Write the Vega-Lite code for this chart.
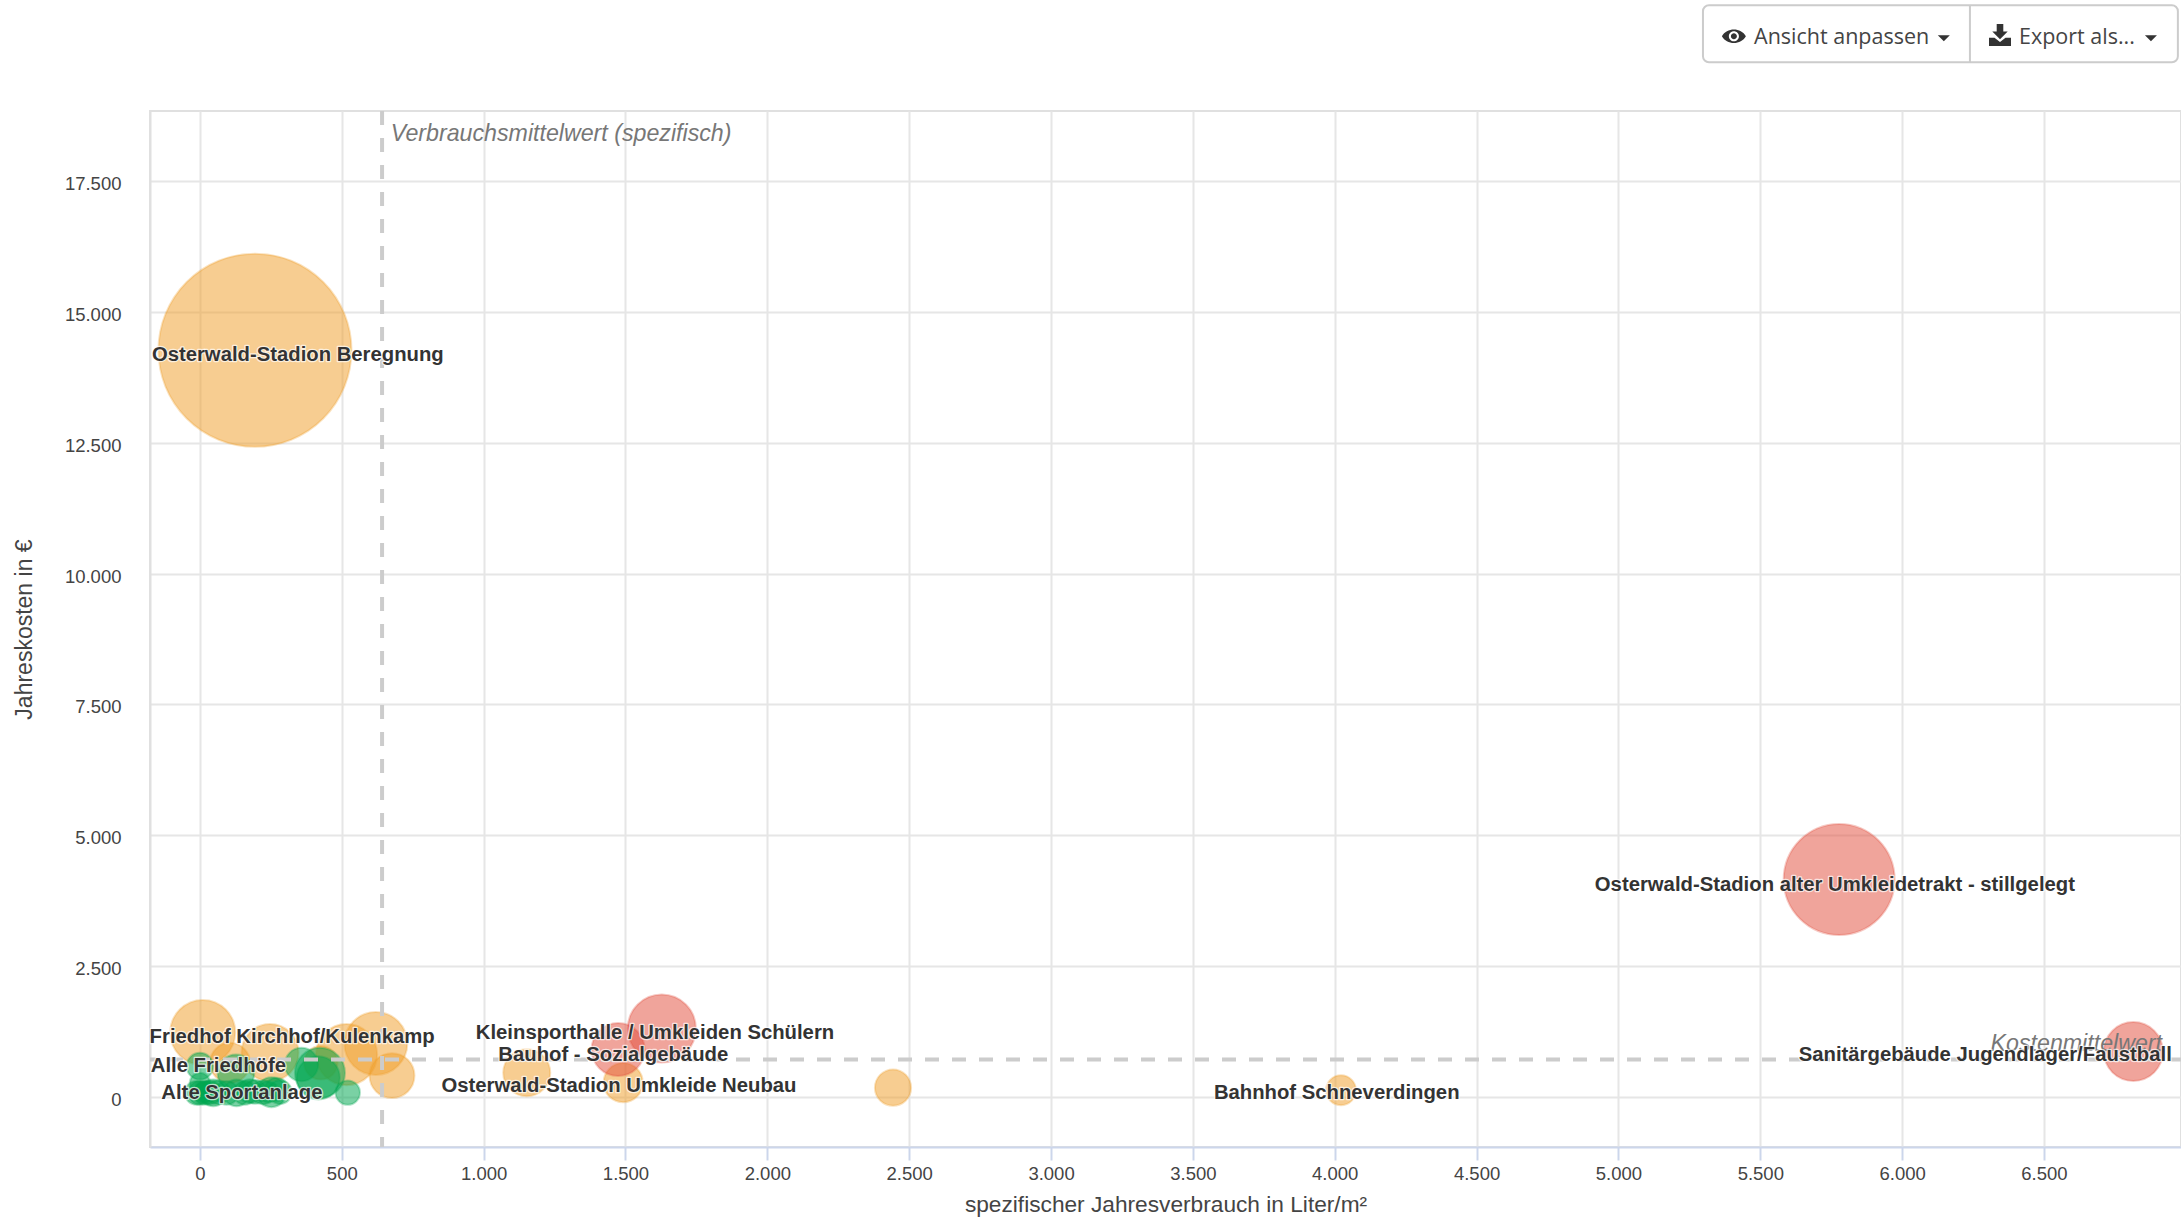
{
"$schema":"https://vega.github.io/schema/vega-lite/v6.json",
"width":2031,"height":1036,
"autosize":"none",
"padding":{"left":150,"top":111,"right":0,"bottom":74},
"background":"#ffffff",
"config":{"view":{"stroke":"#e0e0e0","strokeWidth":2},"font":"Liberation Sans"},
"datasets":{
"bubbles":[
{"name":"Osterwald-Stadion Beregnung","x":194,"y":14270,"m":996,"k":"mittel"},
{"name":"Friedhof Kirchhof/Kulenkamp","x":10,"y":1224,"m":113,"k":"mittel"},
{"name":"B","x":247,"y":840,"m":87,"k":"mittel"},
{"name":"C","x":517,"y":803,"m":100,"k":"mittel"},
{"name":"D","x":620,"y":1014,"m":106,"k":"mittel"},
{"name":"E","x":677,"y":400,"m":54,"k":"mittel"},
{"name":"F","x":106,"y":644,"m":43,"k":"mittel"},
{"name":"G","x":426,"y":644,"m":30,"k":"mittel"},
{"name":"Osterwald-Stadion Umkleide Neubau","x":1492,"y":265,"m":41,"k":"mittel"},
{"name":"H","x":1152,"y":455,"m":59,"k":"mittel"},
{"name":"I","x":2443,"y":170,"m":35,"k":"mittel"},
{"name":"Bahnhof Schneverdingen","x":4022,"y":120,"m":24,"k":"mittel"},
{"name":"Osterwald-Stadion alter Umkleidetrakt - stillgelegt","x":5778,"y":4150,"m":329,"k":"hoch"},
{"name":"Sanitärgebäude Jugendlager/Faustball","x":6815,"y":860,"m":93,"k":"hoch"},
{"name":"Kleinsporthalle / Umkleiden Schülern","x":1628,"y":1300,"m":124,"k":"hoch"},
{"name":"Bauhof - Sozialgebäude","x":1474,"y":900,"m":75,"k":"hoch"},
{"name":"Alle Friedhöfe","x":0,"y":580,"m":19,"k":"niedrig"},
{"name":"J","x":127,"y":452,"m":36,"k":"niedrig"},
{"name":"K","x":358,"y":612,"m":30,"k":"niedrig"},
{"name":"L","x":423,"y":452,"m":67,"k":"niedrig"},
{"name":"M","x":417,"y":357,"m":50,"k":"niedrig"},
{"name":"N","x":521,"y":75,"m":16,"k":"niedrig"},
{"name":"O","x":0,"y":70,"m":15,"k":"niedrig"},
{"name":"P","x":0,"y":261,"m":11,"k":"niedrig"},
{"name":"Alte Sportanlage","x":47,"y":70,"m":19,"k":"niedrig"},
{"name":"Q","x":129,"y":70,"m":19,"k":"niedrig"},
{"name":"R","x":176,"y":102,"m":15,"k":"niedrig"},
{"name":"S","x":252,"y":83,"m":24,"k":"niedrig"},
{"name":"T","x":270,"y":134,"m":15,"k":"niedrig"},
{"name":"U","x":-12,"y":70,"m":15,"k":"niedrig"},
{"name":"V","x":18,"y":70,"m":15,"k":"niedrig"},
{"name":"W","x":35,"y":75,"m":15,"k":"niedrig"},
{"name":"X","x":65,"y":80,"m":15,"k":"niedrig"},
{"name":"Y","x":94,"y":70,"m":15,"k":"niedrig"},
{"name":"Z","x":159,"y":70,"m":15,"k":"niedrig"},
{"name":"AA","x":194,"y":90,"m":15,"k":"niedrig"},
{"name":"AB","x":223,"y":80,"m":15,"k":"niedrig"},
{"name":"AC","x":282,"y":85,"m":15,"k":"niedrig"},
{"name":"AD","x":18,"y":80,"m":12,"k":"niedrig"},
{"name":"AE","x":240,"y":90,"m":12,"k":"niedrig"}
],
"labels":[
{"label":"Osterwald-Stadion Beregnung","x":345,"y":14180},
{"label":"Friedhof Kirchhof/Kulenkamp","x":325,"y":1145},
{"label":"Alle Friedhöfe","x":65,"y":580},
{"label":"Alte Sportanlage","x":148,"y":75},
{"label":"Kleinsporthalle / Umkleiden Schülern","x":1604,"y":1220},
{"label":"Bauhof - Sozialgebäude","x":1457,"y":790},
{"label":"Osterwald-Stadion Umkleide Neubau","x":1477,"y":210},
{"label":"Bahnhof Schneverdingen","x":4007,"y":75},
{"label":"Sanitärgebäude Jugendlager/Faustball","x":6293,"y":790},
{"label":"Osterwald-Stadion alter Umkleidetrakt - stillgelegt","x":5763,"y":4040}
]
},
"layer":[
{"data":{"name":"bubbles"},
"mark":{"type":"point","filled":true,"fillOpacity":0.52,"strokeOpacity":0.3,"strokeWidth":2},
"encoding":{
"x":{"field":"x","type":"quantitative","scale":{"domain":[-176,6983],"nice":false,"zero":false},
"axis":{"title":"spezifischer Jahresverbrauch in Liter/m²","titleFont":"Liberation Sans","titleFontSize":22.7,"titleFontWeight":"normal","titleColor":"#444444","titlePadding":11,
"values":[0,500,1000,1500,2000,2500,3000,3500,4000,4500,5000,5500,6000,6500],
"labelExpr":"replace(format(datum.value,','),',','.')","labelFont":"Liberation Sans","labelFontSize":18.5,"labelColor":"#444444","labelPadding":4,
"grid":true,"gridColor":"#e6e6e6","gridWidth":2,"tickColor":"#ccd6eb","tickWidth":2,"tickSize":13,"domainColor":"#ccd6eb","domainWidth":2}},
"y":{"field":"y","type":"quantitative","scale":{"domain":[-965,18845],"nice":false,"zero":false},
"axis":{"title":"Jahreskosten in €","titleFont":"Liberation Sans","titleFontSize":23,"titleFontWeight":"normal","titleColor":"#444444","titlePadding":28,
"values":[0,2500,5000,7500,10000,12500,15000,17500],
"labelExpr":"replace(format(datum.value,','),',','.')","labelFont":"Liberation Sans","labelFontSize":18.5,"labelColor":"#444444","labelPadding":29,"labelOffset":2.5,
"grid":true,"gridColor":"#e6e6e6","gridWidth":2,"ticks":false,"domainColor":"#e0e0e0","domainWidth":2}},
"size":{"field":"m","type":"quantitative","legend":null,"scale":{"type":"linear","domain":[0,1000],"range":[0,37400]}},
"color":{"field":"k","type":"nominal","legend":null,"scale":{"domain":["hoch","mittel","niedrig"],"range":["#e2503f","#f0a02c","#00a651"]}},
"stroke":{"field":"k","type":"nominal","legend":null,"scale":{"domain":["hoch","mittel","niedrig"],"range":["#e2503f","#f0a02c","#00a651"]}}
}},
{"data":{"values":[{"x":642,"n":"Verbrauchsmittelwert (spezifisch)"}]},
"mark":{"type":"rule","color":"#cccccc","strokeWidth":4,"strokeDash":[14,13]},
"encoding":{"x":{"field":"x","type":"quantitative"}}},
{"data":{"values":[{"y":708,"n":"Kostenmittelwert"}]},
"mark":{"type":"rule","color":"#cccccc","strokeWidth":4,"strokeDash":[14,13]},
"encoding":{"y":{"field":"y","type":"quantitative"}}},
{"data":{"values":[{"x":673,"y":18410,"t":"Verbrauchsmittelwert (spezifisch)"}]},
"mark":{"type":"text","align":"left","baseline":"middle","font":"Liberation Sans","fontStyle":"italic","fontSize":23.2,"color":"#777777"},
"encoding":{"x":{"field":"x","type":"quantitative"},"y":{"field":"y","type":"quantitative"},"text":{"field":"t"}}},
{"data":{"values":[{"x":6916,"y":1000,"t":"Kostenmittelwert"}]},
"mark":{"type":"text","align":"right","baseline":"middle","font":"Liberation Sans","fontStyle":"italic","fontSize":23.2,"color":"#777777"},
"encoding":{"x":{"field":"x","type":"quantitative"},"y":{"field":"y","type":"quantitative"},"text":{"field":"t"}}},
{"data":{"name":"labels"},
"mark":{"type":"text","align":"center","baseline":"middle","font":"Liberation Sans","fontWeight":"bold","fontSize":20.3,"stroke":"#ffffff","strokeWidth":2.5,"strokeOpacity":0.7,"strokeJoin":"round","fill":"#ffffff"},
"encoding":{"x":{"field":"x","type":"quantitative"},"y":{"field":"y","type":"quantitative"},"text":{"field":"label"}}},
{"data":{"name":"labels"},
"mark":{"type":"text","align":"center","baseline":"middle","font":"Liberation Sans","fontWeight":"bold","fontSize":20.3,"fill":"#333333"},
"encoding":{"x":{"field":"x","type":"quantitative"},"y":{"field":"y","type":"quantitative"},"text":{"field":"label"}}},
{"data":{"values":[{"x":5298,"x2":6972,"y":20868,"y2":19778}]},
"mark":{"type":"rect","fill":"#ffffff","stroke":"#cccccc","strokeWidth":2,"cornerRadius":6},
"encoding":{"x":{"field":"x","type":"quantitative"},"x2":{"field":"x2"},"y":{"field":"y","type":"quantitative"},"y2":{"field":"y2"}}},
{"data":{"values":[{"x":6239,"y":20868,"y2":19778}]},
"mark":{"type":"rule","color":"#cccccc","strokeWidth":2},
"encoding":{"x":{"field":"x","type":"quantitative"},"y":{"field":"y","type":"quantitative"},"y2":{"field":"y2"}}},
{"data":{"values":[{"x":5478,"y":20235,"t":"Ansicht anpassen"},{"x":6412,"y":20235,"t":"Export als..."}]},
"mark":{"type":"text","align":"left","baseline":"middle","font":"Open Sans","fontSize":21.5,"fill":"#444444"},
"encoding":{"x":{"field":"x","type":"quantitative"},"y":{"field":"y","type":"quantitative"},"text":{"field":"t"}}},
{"data":{"values":[{"x":6147,"y":20236},{"x":6877,"y":20236}]},
"mark":{"type":"point","filled":true,"opacity":1,"shape":"M-1,-0.5 L1,-0.5 L0,0.5 Z","size":144,"fill":"#333333","stroke":null},
"encoding":{"x":{"field":"x","type":"quantitative"},"y":{"field":"y","type":"quantitative"}}},
{"data":{"values":[{"x":5407,"y":20275}]},
"mark":{"type":"point","filled":true,"opacity":1,"shape":"M-1,0 C-0.6,-0.75 0.6,-0.75 1,0 C0.6,0.75 -0.6,0.75 -1,0 Z M0,-0.42 A0.42,0.42 0 1 0 0,0.42 A0.42,0.42 0 1 0 0,-0.42 Z M0,-0.25 A0.25,0.25 0 1 1 0,0.25 A0.25,0.25 0 1 1 0,-0.25 Z","size":576,"fill":"#333333","stroke":null},
"encoding":{"x":{"field":"x","type":"quantitative"},"y":{"field":"y","type":"quantitative"}}},
{"data":{"values":[{"x":6345,"y":20300}]},
"mark":{"type":"point","filled":true,"opacity":1,"shape":"M-0.3,-1 L0.3,-1 L0.3,-0.3 L0.7,-0.3 L0,0.4 L-0.7,-0.3 L-0.3,-0.3 Z M-1,0.25 L-0.5,0.25 L0,0.65 L0.5,0.25 L1,0.25 L1,1 L-1,1 Z","size":484,"fill":"#333333","stroke":null},
"encoding":{"x":{"field":"x","type":"quantitative"},"y":{"field":"y","type":"quantitative"}}}
]
}
